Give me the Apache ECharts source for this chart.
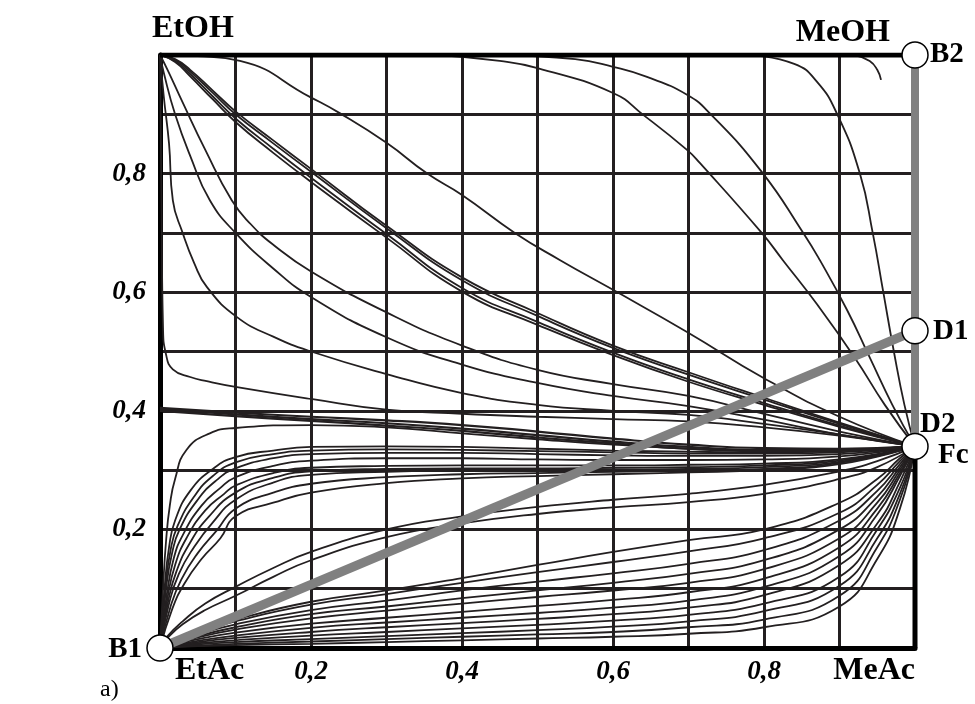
<!DOCTYPE html>
<html>
<head>
<meta charset="utf-8">
<script src="https://cdn.jsdelivr.net/npm/echarts@6/dist/echarts.min.js"></script>
<style>
  html, body { margin: 0; padding: 0; background: #fff; }
  #chart { width: 975px; height: 704px; }
</style>
</head>
<body>
<div id="chart"></div>
<script>
// tick labels
var xTickValues = [0.2, 0.4, 0.6, 0.8];
var xTickLabels = ['0,2', '0,4', '0,6', '0,8'];
var yTickValues = [0.2, 0.4, 0.6, 0.8];
var yTickLabels = ['0,2', '0,4', '0,6', '0,8'];

// special points: B1, B2, D1, D2/Fc
var pointB1 = [0, 0];
var pointB2 = [1, 1];
var pointD1 = [1, 0.535];
var pointFc = [1, 0.34];

// curves leaving the top edge (MeOH side)
var topA1 = [[0.78,1],[0.84,0.985],[0.87,0.955],[0.897,0.9],[0.927,0.8],[0.944,0.7],[0.958,0.6],[0.972,0.5],[0.986,0.41],[1,0.34]];
var topHook = [[0.92,1],[0.94,0.99],[0.95,0.975],[0.955,0.958]];
var topA3 = [[0.45,1],[0.55,0.993],[0.6,0.98],[0.645,0.963],[0.698,0.933],[0.728,0.902],[0.797,0.803],[0.852,0.70],[0.874,0.654],[0.91,0.57],[0.94,0.49],[0.97,0.41],[1,0.34]];
var topA4 = [[0.37,1],[0.45,0.99],[0.5,0.978],[0.6,0.936],[0.64,0.899],[0.698,0.84],[0.715,0.818],[0.797,0.70],[0.825,0.654],[0.87,0.58],[0.92,0.49],[0.96,0.41],[1,0.34]];

// curves from EtOH corner
var etohA5 = [[0,1],[0.05,0.998],[0.106,0.99],[0.199,0.929],[0.238,0.902],[0.3,0.852],[0.354,0.80],[0.4,0.764],[0.47,0.70],[0.53,0.654],[0.6,0.604],[0.698,0.533],[0.8,0.455],[0.9,0.39],[1,0.34]];
var bundle1 = [[0,1],[0.02,0.993],[0.04,0.975],[0.07,0.94],[0.1,0.905],[0.15,0.856],[0.2,0.808],[0.3,0.712],[0.4,0.625],[0.5,0.565],[0.6,0.51],[0.7,0.465],[0.8,0.422],[0.9,0.38],[1,0.34]];
var bundle2 = [[0,1],[0.02,0.992],[0.04,0.972],[0.07,0.936],[0.1,0.9],[0.15,0.851],[0.2,0.803],[0.3,0.708],[0.4,0.62],[0.5,0.56],[0.6,0.506],[0.7,0.461],[0.8,0.419],[0.9,0.378],[1,0.34]];
var bundle3 = [[0,1],[0.02,0.99],[0.04,0.968],[0.07,0.93],[0.1,0.893],[0.15,0.842],[0.2,0.793],[0.3,0.698],[0.4,0.607],[0.5,0.55],[0.6,0.498],[0.7,0.453],[0.8,0.413],[0.9,0.375],[1,0.34]];
var bundle4 = [[0,1],[0.02,0.988],[0.04,0.964],[0.07,0.925],[0.1,0.887],[0.15,0.835],[0.2,0.786],[0.3,0.692],[0.4,0.601],[0.5,0.545],[0.6,0.494],[0.7,0.449],[0.8,0.41],[0.9,0.373],[1,0.34]];
var etohLa = [[0,1],[0.01,0.975],[0.03,0.92],[0.06,0.84],[0.095,0.755],[0.12,0.715],[0.15,0.68],[0.2,0.635],[0.3,0.566],[0.4,0.51],[0.5,0.469],[0.6,0.445],[0.7,0.425],[0.8,0.395],[0.9,0.365],[1,0.34]];
var etohLb = [[0,1],[0.005,0.97],[0.02,0.9],[0.04,0.83],[0.066,0.755],[0.1,0.70],[0.15,0.64],[0.2,0.592],[0.3,0.524],[0.4,0.478],[0.5,0.447],[0.6,0.425],[0.7,0.408],[0.8,0.385],[0.9,0.36],[1,0.34]];
var etohLc = [[0,1],[0.005,0.93],[0.012,0.85],[0.017,0.755],[0.03,0.70],[0.045,0.65],[0.062,0.609],[0.102,0.558],[0.15,0.525],[0.2,0.5],[0.3,0.462],[0.4,0.43],[0.5,0.41],[0.6,0.4],[0.7,0.393],[0.8,0.378],[0.9,0.36],[1,0.34]];
var etohLd = [[0,1],[0.002,0.75],[0.004,0.54],[0.008,0.495],[0.017,0.47],[0.04,0.457],[0.062,0.45],[0.102,0.44],[0.2,0.42],[0.3,0.402],[0.4,0.395],[0.5,0.39],[0.6,0.386],[0.7,0.382],[0.8,0.372],[0.9,0.358],[1,0.34]];

// thick band starting at 0,4 on the left axis
var band1 = [[0,0.405],[0.1,0.397],[0.2,0.39],[0.3,0.384],[0.4,0.376],[0.5,0.365],[0.6,0.353],[0.7,0.343],[0.8,0.337],[0.9,0.336],[1,0.34]];
var band2 = [[0,0.403],[0.1,0.394],[0.2,0.386],[0.3,0.379],[0.4,0.37],[0.5,0.359],[0.6,0.348],[0.7,0.339],[0.8,0.334],[0.9,0.334],[1,0.34]];
var band3 = [[0,0.4],[0.1,0.391],[0.2,0.383],[0.3,0.375],[0.4,0.366],[0.5,0.355],[0.6,0.345],[0.7,0.336],[0.8,0.332],[0.9,0.333],[1,0.34]];

// curves from B1 with a plateau near 0,3
var rise1 = [[0,0],[0.004,0.1],[0.008,0.18],[0.013,0.24],[0.02,0.285],[0.035,0.334],[0.066,0.362],[0.1,0.371],[0.2,0.376],[0.3,0.372],[0.4,0.362],[0.5,0.352],[0.6,0.343],[0.7,0.336],[0.8,0.333],[0.9,0.334],[1,0.34]];
var rise2 = [[0,0],[0.006,0.1],[0.012,0.17],[0.02,0.215],[0.04,0.265],[0.07,0.302],[0.1,0.322],[0.15,0.333],[0.2,0.339],[0.3,0.34],[0.4,0.339],[0.5,0.336],[0.6,0.333],[0.7,0.331],[0.8,0.33],[0.9,0.332],[1,0.34]];
var rise3 = [[0,0],[0.007,0.1],[0.014,0.165],[0.023,0.205],[0.045,0.255],[0.07,0.29],[0.1,0.313],[0.15,0.327],[0.2,0.333],[0.3,0.335],[0.4,0.334],[0.5,0.332],[0.6,0.33],[0.7,0.328],[0.8,0.328],[0.9,0.33],[1,0.34]];
var rise4 = [[0,0],[0.008,0.1],[0.016,0.16],[0.026,0.2],[0.05,0.25],[0.075,0.283],[0.1,0.303],[0.15,0.32],[0.2,0.327],[0.3,0.329],[0.4,0.329],[0.5,0.327],[0.6,0.325],[0.7,0.324],[0.8,0.324],[0.9,0.327],[1,0.34]];
var rise5 = [[0,0],[0.009,0.09],[0.018,0.15],[0.03,0.19],[0.055,0.24],[0.08,0.27],[0.1,0.288],[0.15,0.307],[0.2,0.316],[0.3,0.32],[0.4,0.32],[0.5,0.318],[0.6,0.317],[0.7,0.317],[0.8,0.318],[0.9,0.323],[1,0.34]];
var rise6 = [[0,0],[0.01,0.085],[0.02,0.14],[0.035,0.185],[0.06,0.232],[0.085,0.26],[0.1,0.274],[0.15,0.295],[0.2,0.304],[0.3,0.307],[0.4,0.308],[0.5,0.308],[0.6,0.308],[0.7,0.309],[0.8,0.311],[0.9,0.318],[1,0.34]];
var rise7 = [[0,0],[0.011,0.08],[0.022,0.13],[0.04,0.178],[0.065,0.222],[0.1,0.262],[0.15,0.287],[0.2,0.298],[0.3,0.302],[0.4,0.303],[0.5,0.303],[0.6,0.304],[0.7,0.305],[0.8,0.308],[0.9,0.316],[1,0.34]];
var rise8 = [[0,0],[0.012,0.075],[0.025,0.125],[0.045,0.17],[0.07,0.212],[0.1,0.25],[0.15,0.279],[0.2,0.292],[0.3,0.297],[0.4,0.299],[0.5,0.3],[0.6,0.301],[0.7,0.302],[0.8,0.305],[0.9,0.314],[1,0.34]];
var rise9 = [[0,0],[0.014,0.07],[0.028,0.115],[0.05,0.16],[0.075,0.198],[0.1,0.235],[0.15,0.262],[0.2,0.277],[0.3,0.288],[0.4,0.293],[0.5,0.295],[0.6,0.297],[0.7,0.299],[0.8,0.302],[0.9,0.312],[1,0.34]];
var rise10 = [[0,0],[0.016,0.065],[0.032,0.108],[0.055,0.15],[0.08,0.185],[0.1,0.222],[0.15,0.245],[0.2,0.262],[0.3,0.278],[0.4,0.286],[0.5,0.29],[0.6,0.293],[0.7,0.296],[0.8,0.3],[0.9,0.31],[1,0.34]];

// lower curves from B1 to Fc
var low1 = [[0,0],[0.01,0.02],[0.03,0.045],[0.06,0.075],[0.1,0.103],[0.15,0.135],[0.2,0.162],[0.3,0.2],[0.4,0.222],[0.5,0.238],[0.6,0.25],[0.7,0.26],[0.8,0.275],[0.9,0.298],[0.95,0.315],[1,0.34]];
var low2 = [[0,0],[0.01,0.017],[0.03,0.04],[0.06,0.064],[0.1,0.088],[0.15,0.12],[0.2,0.148],[0.3,0.187],[0.4,0.21],[0.5,0.226],[0.6,0.237],[0.7,0.246],[0.8,0.26],[0.9,0.285],[0.95,0.305],[1,0.34]];
var lowX = [0, 0.05, 0.1, 0.2, 0.3, 0.4, 0.5, 0.6, 0.7, 0.8, 0.9, 0.95, 0.98, 1];
var low3 = [0, 0.028, 0.048, 0.078, 0.097, 0.118, 0.14, 0.162, 0.182, 0.2, 0.245, 0.285, 0.32, 0.34];
var low4 = [0, 0.026, 0.045, 0.073, 0.091, 0.11, 0.128, 0.145, 0.163, 0.185, 0.228, 0.275, 0.315, 0.34];
var low5 = [0, 0.023, 0.04, 0.064, 0.08, 0.097, 0.112, 0.126, 0.142, 0.165, 0.215, 0.265, 0.31, 0.34];
var low6 = [0, 0.02, 0.035, 0.057, 0.07, 0.084, 0.097, 0.11, 0.125, 0.148, 0.2, 0.255, 0.305, 0.34];
var low7 = [0, 0.018, 0.031, 0.05, 0.063, 0.075, 0.086, 0.097, 0.11, 0.133, 0.185, 0.245, 0.3, 0.34];
var low8 = [0, 0.015, 0.026, 0.041, 0.051, 0.061, 0.071, 0.081, 0.094, 0.117, 0.17, 0.235, 0.295, 0.34];
var low9 = [0, 0.012, 0.021, 0.034, 0.043, 0.051, 0.059, 0.068, 0.08, 0.103, 0.155, 0.225, 0.29, 0.34];
var low10 = [0, 0.01, 0.017, 0.027, 0.035, 0.042, 0.049, 0.057, 0.068, 0.089, 0.14, 0.21, 0.28, 0.34];
var low11 = [0, 0.008, 0.013, 0.021, 0.027, 0.033, 0.039, 0.046, 0.056, 0.075, 0.12, 0.2, 0.27, 0.34];
var low12 = [0, 0.006, 0.01, 0.015, 0.02, 0.025, 0.03, 0.036, 0.045, 0.062, 0.105, 0.185, 0.26, 0.34];
var low13 = [0, 0.004, 0.007, 0.011, 0.015, 0.019, 0.023, 0.027, 0.035, 0.048, 0.088, 0.17, 0.25, 0.34];
var low14 = [0, 0.003, 0.005, 0.007, 0.01, 0.013, 0.016, 0.019, 0.024, 0.035, 0.07, 0.15, 0.235, 0.34];

var INK = '#231f20';
var GREY = '#808080';
var SERIF = '"Liberation Serif", "Times New Roman", serif';

function curve(data, width) {
  return {
    type: 'line', data: data, showSymbol: false, silent: true,
    smooth: 0.5, z: 3,
    lineStyle: { color: INK, width: width || 1.8 }
  };
}
function withX(ys) {
  var out = [];
  for (var i = 0; i < ys.length; i++) out.push([lowX[i], ys[i]]);
  return out;
}

var series = [];
[topA1, topHook, topA3, topA4, etohA5, bundle1, bundle2, bundle3, bundle4,
 etohLa, etohLb, etohLc, etohLd, rise1, rise2, rise3, rise4, rise5, rise6,
 rise7, rise8, rise9, rise10, low1, low2].forEach(function (d) { series.push(curve(d)); });
[band1, band2, band3].forEach(function (d) { series.push(curve(d, 2.2)); });
[low3, low4, low5, low6, low7, low8, low9, low10, low11, low12, low13, low14]
  .forEach(function (d) { series.push(curve(withX(d))); });

// frame: top edge, right edge below Fc, grey edge above Fc, grey line B1-D1
function straight(data, color, width, z) {
  return { type: 'line', data: data, showSymbol: false, silent: true, z: z,
    lineStyle: { color: color, width: width, cap: 'butt' } };
}
series.push(straight([[0, 1], pointB2], '#000', 5, 4));
series.push(straight([[1, 0], pointFc], '#000', 5, 4));
series.push(straight([pointFc, pointB2], GREY, 8, 5));
series.push(straight([pointB1, pointD1], GREY, 9, 5));

series.push({
  type: 'scatter', silent: true, z: 10,
  data: [pointB1, pointB2, pointD1, pointFc],
  symbol: 'circle', symbolSize: 26,
  itemStyle: { color: '#fff', borderColor: '#000', borderWidth: 1.5, opacity: 1 }
});

function lab(list, values) {
  return function (v) {
    for (var i = 0; i < values.length; i++) {
      if (Math.abs(v - values[i]) < 1e-6) return list[i];
    }
    return '';
  };
}

function txt(text, x, y, align, size, weight) {
  return {
    type: 'text', x: x, y: y, z: 20,
    style: {
      text: text, fill: '#000', align: align, verticalAlign: 'middle',
      font: (weight || 'bold') + ' ' + size + 'px ' + SERIF
    }
  };
}

var chart = echarts.init(document.getElementById('chart'));
chart.setOption({
  animation: false,
  backgroundColor: '#fff',
  grid: { left: 160, right: 60, top: 55, bottom: 56 },
  xAxis: {
    type: 'value', min: 0, max: 1, interval: 0.1,
    axisLine: { show: true, onZero: false, lineStyle: { color: '#000', width: 5 } },
    axisTick: { show: false },
    splitLine: { show: true, lineStyle: { color: INK, width: 3 } },
    axisLabel: {
      margin: 11, formatter: lab(xTickLabels, xTickValues),
      fontFamily: 'Liberation Serif', fontStyle: 'italic', fontWeight: 'bold', fontSize: 27, color: '#000'
    }
  },
  yAxis: {
    type: 'value', min: 0, max: 1, interval: 0.1,
    axisLine: { show: true, onZero: false, lineStyle: { color: '#000', width: 5 } },
    axisTick: { show: false },
    splitLine: { show: true, lineStyle: { color: INK, width: 3 } },
    axisLabel: {
      margin: 14, formatter: lab(yTickLabels, yTickValues),
      fontFamily: 'Liberation Serif', fontStyle: 'italic', fontWeight: 'bold', fontSize: 27, color: '#000'
    }
  },
  series: series,
  graphic: [
    txt('EtOH', 152, 29, 'left', 32),
    txt('MeOH', 890, 33, 'right', 32),
    txt('B2', 930, 55, 'left', 29),
    txt('D1', 933, 332, 'left', 29),
    txt('D2', 920, 425, 'left', 29),
    txt('Fc', 938, 456, 'left', 29),
    txt('B1', 142, 650, 'right', 29),
    txt('EtAc', 175, 671, 'left', 32),
    txt('MeAc', 915, 671, 'right', 32),
    txt('a)', 100, 690, 'left', 24, 'normal')
  ]
});
</script>
</body>
</html>
